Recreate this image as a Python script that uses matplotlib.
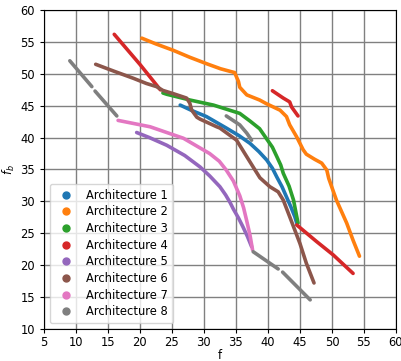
import numpy as np
import matplotlib.pyplot as plt
from matplotlib.lines import Line2D

nan = np.nan
labels = ['Architecture %d' % i for i in range(1, 9)]
colors = ['tab:blue', 'tab:orange', 'tab:green', 'tab:red',
          'tab:purple', 'tab:brown', 'tab:pink', 'tab:gray']

arch1_f = [26.3, 28.0, 30.4, 33.5, 35.5, 37.2, 38.6, 39.8, 40.7, 41.4, 42.2, 42.9, 43.6, 44.2, 44.5]
arch1_fb = [45.1, 44.3, 43.3, 41.5, 40.3, 39.1, 37.8, 36.5, 35.2, 33.8, 32.3, 30.7, 29.1, 27.6, 26.6]

arch2_f = [20.3, 22.5, 25.2, 27.8, 30.4, 32.6, 34.8, 35.4, 35.6, 36.7, 38.7, 39.8, 41.9,
           42.9, 43.4, 44.5, 45.5, 46.0, 47.3, 48.4, 49.2, 49.5, 50.7, 52.3, 53.3, 54.3]
arch2_fb = [55.6, 54.7, 53.7, 52.6, 51.6, 50.8, 50.2, 48.8, 47.9, 46.7, 45.9, 45.3, 44.3,
            43.3, 42.0, 40.1, 38.1, 37.4, 36.6, 36.0, 34.9, 33.6, 30.2, 26.6, 23.9, 21.4]

arch3_f = [23.6, 24.2, 27.8, 31.5, 35.6, 37.2, 38.7, 39.8, 40.7, 41.4, 42.0, 42.4, 43.3, 44.0, 44.7]
arch3_fb = [47.0, 46.8, 45.9, 45.1, 43.8, 42.6, 41.4, 39.8, 38.5, 37.0, 35.7, 34.4, 32.4, 30.2, 26.6]

arch4_f = [16.0, 20.0, 23.2, nan, 40.7, 42.4, 43.4, 43.7, 44.7, nan, 44.5, 47.6, 50.2, 53.3]
arch4_fb = [56.2, 51.5, 47.5, nan, 47.35, 46.2, 45.6, 44.8, 43.4, nan, 26.3, 23.7, 21.6, 18.7]

arch5_f = [19.5, 21.5, 24.2, 27.0, 29.4, 30.9, 32.5, 33.4, 34.1, 34.6, 35.4, 36.1, 36.8, 37.45]
arch5_fb = [40.8, 40.0, 38.8, 37.2, 35.4, 34.0, 32.3, 31.0, 29.8, 28.8, 27.4, 26.0, 24.5, 22.9]

arch6_f = [13.1, 16.0, 19.0, 21.0, 22.6, 23.6, 25.2, 27.3, 27.8, 28.1, 28.9, 29.4, 32.0,
           32.5, 35.1, 36.7, 38.0, 38.75, 40.3, 41.6, 42.4, 43.4, 45.0, 46.0, 47.2]
arch6_fb = [51.5, 50.4, 49.3, 48.5, 48.0, 47.4, 46.9, 46.2, 45.4, 44.3, 43.2, 42.9, 41.7,
            41.5, 39.6, 37.0, 34.9, 33.7, 32.3, 31.5, 30.2, 27.6, 23.4, 20.3, 17.2]

arch7_f = [16.6, 21.6, 26.8, 30.9, 32.4, 33.5, 34.6, 35.6, 36.2, 36.7, 37.2, 37.6]
arch7_fb = [42.7, 41.7, 39.9, 37.5, 36.3, 34.9, 33.2, 30.9, 29.0, 26.9, 24.7, 22.4]

arch8_f = [9.06, 12.5, nan, 13.0, 16.4, nan, 33.5, 35.6, 36.7, 37.45, nan,
           37.7, 41.6, nan, 42.3, 46.6]
arch8_fb = [52.05, 48.0, nan, 47.3, 43.4, nan, 43.4, 42.0, 40.7, 39.6, nan,
            22.1, 19.4, nan, 18.9, 14.55]

series = [(arch1_f, arch1_fb), (arch2_f, arch2_fb), (arch3_f, arch3_fb), (arch4_f, arch4_fb),
          (arch5_f, arch5_fb), (arch6_f, arch6_fb), (arch7_f, arch7_fb), (arch8_f, arch8_fb)]

plt.rcParams['font.size'] = 8.3
plt.rcParams['xtick.major.size'] = 2.9
plt.rcParams['ytick.major.size'] = 2.9
plt.rcParams['xtick.major.pad'] = 2.5
plt.rcParams['axes.linewidth'] = 0.8

fig = plt.figure(figsize=(4.02, 3.61), dpi=100)
ax = fig.add_axes([0.109, 0.089, 0.876, 0.883])

for (f, fb), c in zip(series, colors):
    ax.plot(f, fb, color=c, lw=2.6, solid_capstyle='round')

handles = [Line2D([], [], ls='none', marker='o', ms=5, color=c) for c in colors]
ax.legend(handles, labels, loc='lower left', fontsize=8.3, handletextpad=0.8,
          labelspacing=0.32, borderaxespad=0.5)

ax.set_xlim(5, 60)
ax.set_ylim(10, 60)
ax.set_xticks(np.arange(5, 61, 5))
ax.set_yticks(np.arange(10, 61, 5))
ax.grid(True, color='gray', lw=1.0)
ax.set_axisbelow(True)
ax.set_xlabel('f', labelpad=0)
ax.set_ylabel('$f_b$', labelpad=2)

fig.savefig('out.png', dpi=100)
